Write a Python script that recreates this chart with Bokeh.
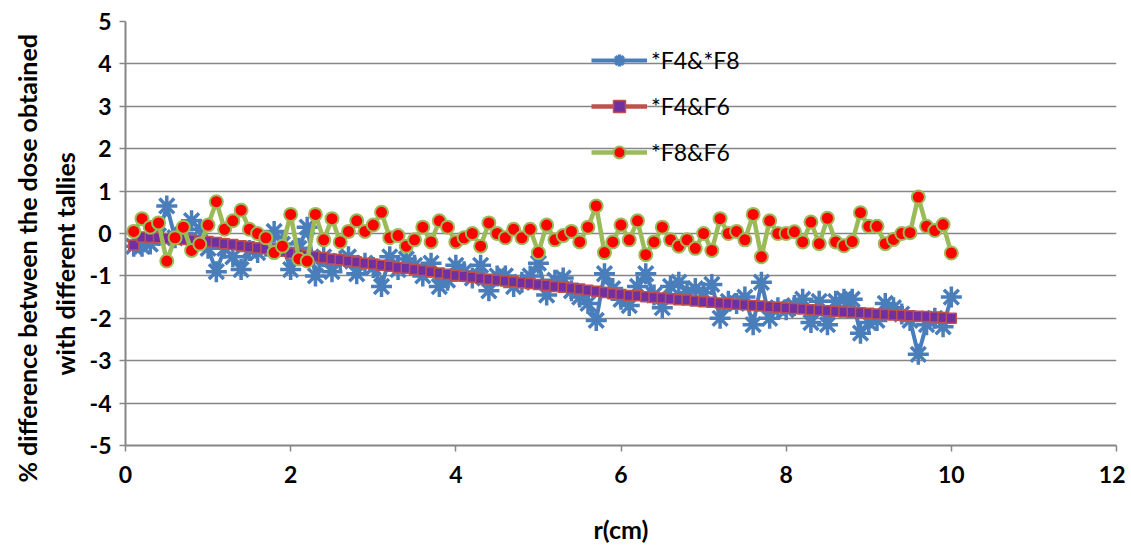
from bokeh.plotting import figure
from bokeh.models import Range1d, FixedTicker, Legend, LegendItem, PrintfTickFormatter, Title
from bokeh.embed import file_html
from bokeh.resources import INLINE

r = [round(0.1 * i, 1) for i in range(1, 101)]

f4_f8 = [-0.30, -0.30, -0.25, -0.05, 0.65, -0.10, 0.00, 0.30, 0.10, -0.35,
         -0.90, -0.35, -0.55, -0.85, -0.40, -0.45, -0.30, 0.05, -0.25, -0.85,
         -0.35, 0.15, -1.00, -0.55, -0.90, -0.65, -0.55, -0.95, -0.70, -0.80,
         -1.25, -0.55, -0.85, -0.60, -0.75, -1.00, -0.70, -1.25, -1.10, -0.75,
         -0.90, -1.05, -0.75, -1.35, -1.00, -1.00, -1.25, -1.15, -1.00, -0.70,
         -1.45, -1.10, -1.05, -1.35, -1.50, -1.65, -2.05, -0.95, -1.30, -1.55,
         -1.70, -1.25, -0.95, -1.45, -1.75, -1.25, -1.15, -1.40, -1.30, -1.40,
         -1.20, -2.00, -1.60, -1.65, -1.50, -2.15, -1.15, -2.00, -1.75, -1.80,
         -1.70, -1.55, -2.10, -1.60, -2.15, -1.60, -1.55, -1.55, -2.35, -2.10,
         -2.05, -1.65, -1.75, -1.90, -2.05, -2.85, -2.15, -2.00, -2.20, -1.50]

f4_f6 = [-0.27, -0.08, -0.09, -0.10, -0.12, -0.13, -0.14, -0.16, -0.17, -0.19,
         -0.21, -0.24, -0.26, -0.29, -0.31, -0.34, -0.36, -0.39, -0.42, -0.46,
         -0.49, -0.52, -0.54, -0.57, -0.60, -0.62, -0.65, -0.67, -0.70, -0.72,
         -0.75, -0.77, -0.80, -0.82, -0.85, -0.87, -0.90, -0.93, -0.96, -0.99,
         -1.01, -1.03, -1.06, -1.08, -1.10, -1.12, -1.14, -1.16, -1.18, -1.20,
         -1.22, -1.25, -1.27, -1.29, -1.31, -1.34, -1.36, -1.39, -1.42, -1.44,
         -1.46, -1.47, -1.49, -1.51, -1.52, -1.54, -1.56, -1.57, -1.59, -1.61,
         -1.62, -1.64, -1.65, -1.67, -1.68, -1.70, -1.71, -1.73, -1.74, -1.76,
         -1.77, -1.78, -1.80, -1.81, -1.82, -1.84, -1.85, -1.86, -1.87, -1.88,
         -1.90, -1.91, -1.92, -1.93, -1.94, -1.95, -1.96, -1.97, -1.98, -2.00]

f8_f6 = [0.05, 0.35, 0.15, 0.25, -0.65, -0.10, 0.15, -0.40, -0.25, 0.20,
         0.75, 0.10, 0.30, 0.55, 0.10, 0.00, -0.10, -0.45, -0.30, 0.45,
         -0.60, -0.65, 0.45, -0.15, 0.35, -0.20, 0.05, 0.30, 0.05, 0.20,
         0.50, -0.10, -0.05, -0.30, -0.15, 0.15, -0.20, 0.30, 0.15, -0.20,
         -0.10, 0.00, -0.30, 0.25, 0.00, -0.10, 0.10, -0.10, 0.10, -0.45,
         0.20, -0.15, -0.05, 0.05, -0.20, 0.15, 0.65, -0.45, -0.20, 0.20,
         -0.15, 0.30, -0.50, -0.20, 0.15, -0.15, -0.30, -0.15, -0.35, 0.00,
         -0.40, 0.35, 0.00, 0.05, -0.15, 0.45, -0.55, 0.30, 0.00, 0.00,
         0.04, -0.20, 0.27, -0.24, 0.36, -0.20, -0.29, -0.19, 0.49, 0.17,
         0.17, -0.24, -0.14, 0.00, 0.02, 0.86, 0.17, 0.07, 0.21, -0.46]

labels = ["*F4&*F8", "*F4&F6", "*F8&F6"]
x_ticks = [0, 2, 4, 6, 8, 10, 12]
y_ticks = [-5, -4, -3, -2, -1, 0, 1, 2, 3, 4, 5]
y_title = ["% difference between the dose obtained", "with different tallies"]

FONT = "Lato"
GRID = "#868686"

p = figure(width=1125, height=546, output_backend="svg", toolbar_location=None,
           x_range=Range1d(0, 12), y_range=Range1d(-5, 5),
           min_border_left=125, min_border_right=9, min_border_top=21, min_border_bottom=98)
p.outline_line_color = None
p.background_fill_color = "white"
p.border_fill_color = "white"

p.xgrid.grid_line_color = None
p.ygrid.grid_line_color = GRID
p.ygrid.grid_line_width = 1.5
p.ygrid.ticker = FixedTicker(ticks=y_ticks)

p.xaxis.ticker = FixedTicker(ticks=x_ticks)
p.yaxis.ticker = FixedTicker(ticks=y_ticks)
p.xaxis.formatter = PrintfTickFormatter(format="%d")
p.yaxis.formatter = PrintfTickFormatter(format="%d")
for ax in (p.xaxis, p.yaxis):
    ax.axis_line_color = GRID
    ax.axis_line_width = 2
    ax.major_tick_line_color = GRID
    ax.major_tick_line_width = 1.5
    ax.major_tick_out = 6
    ax.major_tick_in = 0
    ax.minor_tick_line_color = None
    ax.major_label_text_font = FONT
    ax.major_label_text_font_style = "bold"
    ax.major_label_text_font_size = "23px"
    ax.major_label_text_color = "black"
    ax.axis_label_text_font = FONT
    ax.axis_label_text_font_style = "bold"
    ax.axis_label_text_font_size = "25px"
    ax.axis_label_text_color = "black"

p.xaxis.axis_label = "r(cm)"
p.xaxis.axis_label_standoff = 28
p.xaxis.major_label_standoff = 14
p.yaxis.major_label_standoff = 8

# y-axis title as two stacked side titles (inner line first)
t2 = Title(text=y_title[1], align="left", offset=70, standoff=13,
           text_font=FONT, text_font_size="25px", text_font_style="bold", text_color="black")
t1 = Title(text=y_title[0], align="left", offset=-37, standoff=0,
           text_font=FONT, text_font_size="25px", text_font_style="bold", text_color="black")
p.add_layout(t2, "left")
p.add_layout(t1, "left")

BLUE = "#4A7EBB"
RED = "#C0504D"
PURPLE = "#7030A0"
GREEN = "#9BBB59"

l1 = p.line(r, f4_f8, line_color=BLUE, line_width=4)
s1 = p.scatter(r, f4_f8, marker="asterisk", size=21, line_color=BLUE, line_width=3.5)
l2 = p.line(r, f4_f6, line_color=RED, line_width=4.5)
s2 = p.scatter(r, f4_f6, marker="square", size=10, fill_color=PURPLE, line_color=RED, line_width=1.5)
l3 = p.line(r, f8_f6, line_color=GREEN, line_width=4.5)
s3 = p.scatter(r, f8_f6, marker="circle", size=13, fill_color="#FF0000", line_color=GREEN, line_width=2)

legend = Legend(items=[LegendItem(label=labels[0], renderers=[l1, s1]),
                       LegendItem(label=labels[1], renderers=[l2, s2]),
                       LegendItem(label=labels[2], renderers=[l3, s3])],
                location=(466, 278))
legend.background_fill_alpha = 0
legend.border_line_color = None
legend.label_text_font = FONT
legend.label_text_font_size = "23px"
legend.label_text_color = "black"
legend.glyph_width = 56
legend.glyph_height = 30
legend.label_height = 30
legend.spacing = 16
legend.label_standoff = 4
legend.padding = 5
p.add_layout(legend)

open("out.html", "w").write(file_html(p, INLINE))
